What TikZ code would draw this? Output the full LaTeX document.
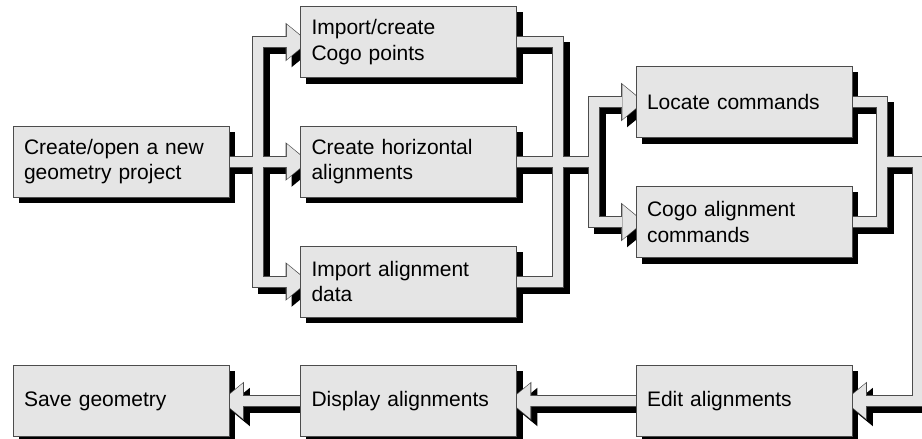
\documentclass[tikz,border=0pt]{standalone}
\usepackage{fontspec}
\setmainfont{Liberation Sans}
\usetikzlibrary{arrows.meta}
\pgfdeclarelayer{bshadow}
\pgfdeclarelayer{cshadow}
\pgfdeclarelayer{coutline}
\pgfdeclarelayer{cfill}
\pgfsetlayers{bshadow,cshadow,coutline,cfill,main}
\newcommand\connline[1]{%
  \begin{pgfonlayer}{cshadow}\draw[cshad] #1;\end{pgfonlayer}%
  \begin{pgfonlayer}{coutline}\draw[cout] #1;\end{pgfonlayer}%
  \begin{pgfonlayer}{cfill}\draw[cfil] #1;\end{pgfonlayer}}
\newcommand\connarrow[1]{%
  \begin{pgfonlayer}{cshadow}\draw[cshad,-{Triangle[length=23.5pt,width=38.5pt,line width=0pt]}] #1;\end{pgfonlayer}%
  \begin{pgfonlayer}{coutline}\draw[cout,-{Triangle[length=23.5pt,width=38.5pt,line width=0pt]}] #1;\end{pgfonlayer}%
  \begin{pgfonlayer}{cfill}\draw[cfil,shorten >=1.3pt,-{Triangle[length=21pt,width=35pt,line width=0pt]}] #1;\end{pgfonlayer}}
\newcommand\boxshadow[1]{%
  \begin{pgfonlayer}{bshadow}\fill[black] ([xshift=6pt,yshift=-6pt]#1.north west) rectangle ([xshift=6pt,yshift=-6pt]#1.south east);\end{pgfonlayer}}
\begin{document}
\begin{tikzpicture}[x=1pt,y=-1pt,
  box/.style={draw=black!70, line width=0.9pt, fill=gray!20, minimum width=216pt, minimum height=71pt,
    inner sep=0pt, text width=194pt, align=left, font=\fontsize{21pt}{25.5pt}\selectfont},
  cshad/.style={draw=black, line width=12pt, transform canvas={xshift=6pt,yshift=-6pt}},
  cout/.style={draw=black!70, line width=12pt},
  cfil/.style={draw=gray!20, line width=10pt}]
\useasboundingbox (0,0) rectangle (922,439);
\node[box] (A) at (121,161.5) {Create/open a new\\geometry project};
\node[box] (B) at (408.5,42) {Import/create\\Cogo points};
\node[box] (C) at (408.5,161.5) {Create horizontal\\alignments};
\node[box] (D) at (408.5,281.5) {Import alignment\\data};
\node[box] (E) at (744,102) {Locate commands};
\node[box] (F) at (744,222) {Cogo alignment\\commands};
\node[box] (G) at (121,401) {Save geometry};
\node[box] (H) at (408.5,401) {Display alignments};
\node[box] (I) at (744,401) {Edit alignments};
\foreach \n in {A,B,C,D,E,F,G,H,I} {\boxshadow{\n}}
\coordinate (j1) at (257.5,161.5);
\coordinate (j2) at (558,161.5);
\coordinate (j3) at (593.5,161.5);
\coordinate (j4) at (882,161.5);
\coordinate (j5) at (917.5,161.5);
% first fan-out
\connarrow{(A.east) -- ([xshift=9pt]C.west)}
\connarrow{(A.east) -- (j1) |- ([xshift=9pt]B.west)}
\connarrow{(A.east) -- (j1) |- ([xshift=9pt]D.west)}
% merge and second fan-out
\connline{(B.east) -| (j2)}
\connline{(D.east) -| (j2)}
\connarrow{(C.east) -- (j3) |- ([xshift=9pt]E.west)}
\connarrow{(C.east) -- (j3) |- ([xshift=9pt]F.west)}
% merge to edit
\connline{(E.east) -| (j4)}
\connline{(F.east) -| (j4)}
\connarrow{(j4) -- (j5) |- ([xshift=-9pt]I.east)}
% bottom row
\connarrow{(I.west) -- ([xshift=-9pt]H.east)}
\connarrow{(H.west) -- ([xshift=-9pt]G.east)}
\end{tikzpicture}
\end{document}
